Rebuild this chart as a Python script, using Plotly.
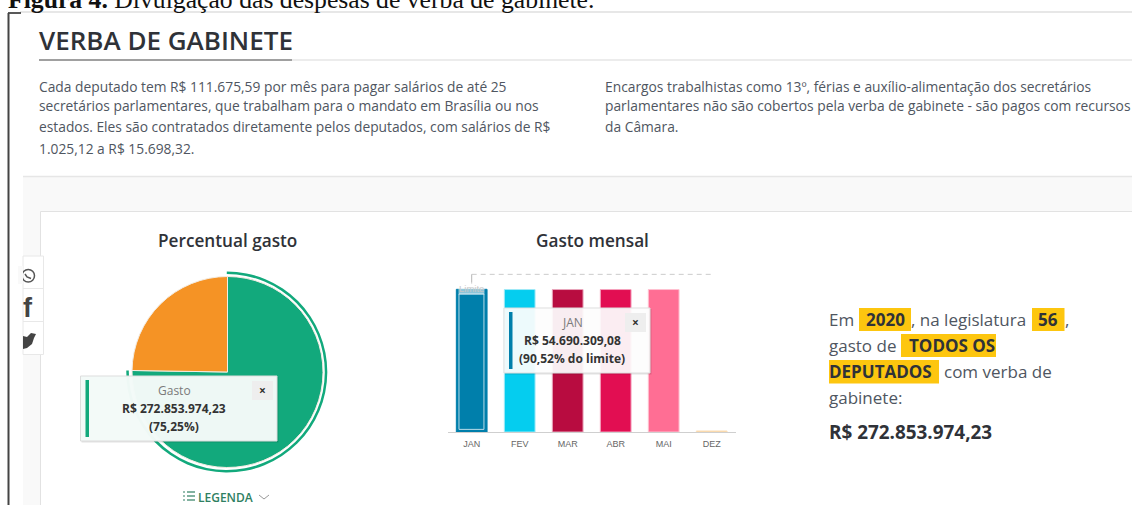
import plotly.graph_objects as go

# ---- data ----
pie_labels = ["Gasto", "Restante"]
pie_values = [75.25, 24.75]
months = ["JAN", "FEV", "MAR", "ABR", "MAI", "DEZ"]
month_values = [54.69, 54.6, 54.6, 54.6, 54.6, 0.4]
limit_value = 60.42
limit_tick_bottom = 56.7

W, H = 1132, 505
OS = "Open Sans"
TXT = "#4f5661"
DARK = "#2f3238"
GREEN = "#12a97c"
ORANGE = "#f59325"
BLUE = "#007fab"
bar_colors = [BLUE, "#05cdef", "#b80c40", "#e20e52", "#ff6e94", "#f9c98a"]
bar_edges = ["#007fab", "#9fe9f7", "#e9a6bb", "#f5a3bd", "#ffc0d0", "#fbe0bc"]

def px(x):
    return x / W

def py(y):
    return 1 - y / H

shapes, annos = [], []

def rect(x0, y0, x1, y1, fill="rgba(0,0,0,0)", line=None, lw=0, layer="below", opacity=1):
    shapes.append(dict(type="rect", xref="paper", yref="paper", x0=px(x0), x1=px(x1),
                       y0=py(y1), y1=py(y0), fillcolor=fill, layer=layer, opacity=opacity,
                       line=dict(color=line or "rgba(0,0,0,0)", width=lw)))

def line(x0, y0, x1, y1, color, w=1, layer="below", dash="solid"):
    shapes.append(dict(type="line", xref="paper", yref="paper", x0=px(x0), x1=px(x1),
                       y0=py(y0), y1=py(y1), layer=layer, line=dict(color=color, width=w, dash=dash)))

def text(x, y, s, size=12, color=TXT, anchor="left", family=OS, weight=None):
    f = dict(family=family, size=size, color=color)
    if weight:
        f["weight"] = weight
    annos.append(dict(xref="paper", yref="paper", x=px(x), y=py(y), text=s, showarrow=False,
                      xanchor=anchor, yanchor="middle", align=anchor, font=f,
                      borderpad=0, borderwidth=0))

# ---- page frame ----
text(8, -1, "<b>Figura 4.</b> Divulgação das despesas de verba de gabinete.", 25.7, "#111", family="Liberation Serif")
line(20, 12, W, 12, "#cfcfcf", 1)
line(8, 13, 21, 13, "#222", 1.5)
line(8.5, 13, 8.5, H, "#444", 2)
rect(23, 177, W, H, fill="#f9f9f9")
line(23, 176.5, W, 176.5, "#e6e6e6", 1.5)
rect(40.5, 211.5, W + 5, H + 5, fill="#ffffff", line="#e2e2e2", lw=1)

text(39, 40, "VERBA DE GABINETE", 26, "#2f3238", weight=600)
line(292, 60, W, 60, "#e6e6e6", 1.5)
line(39, 60, 292, 60, "#808080", 1.5)

left_par = ["Cada deputado tem R$ 111.675,59 por mês para pagar salários de até 25",
            "secretários parlamentares, que trabalham para o mandato em Brasília ou nos",
            "estados. Eles são contratados diretamente pelos deputados, com salários de R$",
            "1.025,12 a R$ 15.698,32."]
right_par = ["Encargos trabalhistas como 13º, férias e auxílio-alimentação dos secretários",
             "parlamentares não são cobertos pela verba de gabinete - são pagos com recursos",
             "da Câmara."]
for s, y in zip(left_par, [86, 106, 126.4, 148]):
    text(39, y, s, 13.8)
for s, y in zip(right_par, [86, 106, 126.4]):
    text(605, y, s, 13.8)

text(227, 240, "Percentual gasto", 17.2, DARK, "center", weight=600)
text(592, 240, "Gasto mensal", 17.2, DARK, "center", weight=600)

# ---- social strip ----
rect(23, 256, 43.5, 354.5, fill="#ffffff", line="#e8e8e8", lw=1)
line(23, 288.5, 43.5, 288.5, "#e8e8e8")
line(23, 321.5, 43.5, 321.5, "#e8e8e8")
shapes.append(dict(type="circle", xref="paper", yref="paper", layer="below",
                   x0=px(22), x1=px(34.5), y0=py(282), y1=py(269.5),
                   line=dict(color="#555", width=1.5)))
shapes.append(dict(type="path", xref="paper", yref="paper", layer="below",
                   line=dict(color="#555", width=1.5),
                   path=f"M {px(25)} {py(274)} L {px(27)} {py(277)} L {px(31)} {py(278.5)}"))
rect(18, 266, 23, 284, fill="#f9f9f9")
text(23, 308, "<b>f</b>", 27, "#444", family="Liberation Sans", anchor="left")
shapes.append(dict(type="path", xref="paper", yref="paper", layer="below", fillcolor="#444",
                   line=dict(color="#444", width=0),
                   path=(f"M {px(23)} {py(336)} L {px(27)} {py(337)} L {px(31)} {py(333)} L {px(36)} {py(334)} "
                         f"L {px(34)} {py(338)} L {px(32)} {py(344)} L {px(27)} {py(348)} L {px(23)} {py(349)} Z")))

# ---- tooltips ----
def tooltip(x0, y0, x1, y1, color, lines, cx, ys, fill):
    rect(x0 + 1, y0 + 1, x1 + 1.5, y1 + 1.5, fill="rgba(0,0,0,0.12)", layer="above")
    rect(x0, y0, x1, y1, fill=fill, line="#dddddd", lw=1, layer="above")
    rect(x0 + 5, y0 + 4, x0 + 8.5, y1 - 4, fill=color, layer="above")
    rect(x1 - 25, y0 + 5, x1 - 4, y0 + 24, fill="#eeeeee", layer="above")
    text(x1 - 14.5, y0 + 14, "<b>×</b>", 12, "#333", "center")
    text(cx, ys[0], lines[0], 12, "#7a7a7a", "center")
    text(cx, ys[1], "<b>" + lines[1] + "</b>", 12, "#333", "center")
    text(cx, ys[2], "<b>" + lines[2] + "</b>", 12, "#333", "center")

tooltip(80.5, 376, 277, 441, GREEN, ["Gasto", "R$ 272.853.974,23", "(75,25%)"], 174, [390.5, 408.5, 426.5],
        "rgba(243,250,248,0.98)")
tooltip(504, 308, 650, 373, BLUE, ["JAN", "R$ 54.690.309,08", "(90,52% do limite)"], 572, [322, 340, 358],
        "rgba(255,255,255,0.93)")

# ---- legend label ----
for yy in (491, 495, 499):
    line(183, yy + 1, 185, yy + 1, "#2f7f62", 1.2)
    line(187, yy + 1, 195, yy + 1, "#2f7f62", 1.2)
text(198, 497, "LEGENDA", 12, "#2f7f62", weight=600)
line(259, 495, 264, 499, "#999", 1)
line(264, 499, 269, 495, "#999", 1)

# ---- highlighted sentence ----
HL = "#fdc60f"
for b in [(859, 308, 911, 331), (1032, 308, 1064.5, 331), (901, 334, 996, 357), (829, 360, 939, 383.5)]:
    rect(*b, fill=HL)
S = 17
text(829, 319.5, "Em", S)
text(885, 319.5, "<b>2020</b>", S, DARK, "center")
text(911, 319.5, ", na legislatura", S)
text(1048, 319.5, "<b>56</b>", S, DARK, "center")
text(1065, 319.5, ",", S)
text(829, 345.5, "gasto de", S)
text(952, 345.5, "<b>TODOS OS</b>", S, DARK, "center")
text(829, 371.5, "<b>DEPUTADOS</b>", S, DARK)
text(944, 371.5, "com verba de", S)
text(829, 397.5, "gabinete:", S)
text(829, 432, "<b>R$ 272.853.974,23</b>", 18.9, DARK)

# ---- traces ----
fig = go.Figure()
r, cx, cy = 95.5, 227.5, 372
fig.add_trace(go.Pie(labels=pie_labels, values=pie_values, sort=False, direction="clockwise",
                     rotation=0, textinfo="none", hoverinfo="skip", showlegend=False,
                     marker=dict(colors=[GREEN, ORANGE], line=dict(color="#f3ece2", width=1)),
                     domain=dict(x=[px(cx - r), px(cx + r)], y=[py(cy + r), py(cy - r)])))
r2, cx2 = 100.5, 226.8
fig.add_trace(go.Pie(labels=pie_labels, values=pie_values, sort=False, direction="clockwise",
                     rotation=0, hole=0.975, textinfo="none", hoverinfo="skip", showlegend=False,
                     marker=dict(colors=[GREEN, "rgba(0,0,0,0)"], line=dict(width=0)),
                     domain=dict(x=[px(cx2 - r2), px(cx2 + r2)], y=[py(cy + r2), py(cy - r2)])))

fig.add_trace(go.Bar(x=months, y=month_values, width=0.64, showlegend=False, hoverinfo="skip",
                     marker=dict(color=bar_colors, line=dict(color=bar_edges, width=1))))
fig.add_trace(go.Scatter(x=[months[0], months[-1]], y=[limit_value, limit_value],
                         mode="lines", hoverinfo="skip", showlegend=False,
                         line=dict(color="#cccccc", width=1, dash="5px,4px")))
fig.add_trace(go.Scatter(x=[months[0], months[0]], y=[limit_tick_bottom, limit_value],
                         mode="lines", hoverinfo="skip", showlegend=False,
                         line=dict(color="#b5b5b5", width=1)))

# highlight frame inside the selected bar
shapes.append(dict(type="rect", xref="x", yref="y", x0=-0.265, x1=0.255, y0=1.0,
                   y1=month_values[0] - 1.8, layer="above", fillcolor="rgba(0,0,0,0)",
                   line=dict(color="#b8dbe8", width=1)))
annos.append(dict(xref="x", yref="y", x=months[0], y=month_values[0] + 0.3, text="Limite", showarrow=False,
                  yanchor="middle", font=dict(family="Liberation Sans", size=9.5, color="#c8c8c8"),
                  bgcolor="rgba(255,255,255,0.55)", borderpad=0))

fig.update_layout(
    width=W, height=H, autosize=False, margin=dict(l=0, r=0, t=0, b=0),
    paper_bgcolor="#ffffff", plot_bgcolor="rgba(0,0,0,0)", shapes=shapes, annotations=annos,
    xaxis=dict(domain=[px(447.7), px(735.7)], type="category", categoryorder="array",
               categoryarray=months, range=[-0.5, 5.5], showgrid=False, zeroline=False,
               showline=True, linecolor="#cfcfcf", linewidth=1, ticks="outside", ticklen=3,
               tickcolor="rgba(0,0,0,0)", fixedrange=True,
               tickfont=dict(family="Liberation Sans", size=9, color="#666666")),
    yaxis=dict(domain=[py(432), py(262.4)], range=[0, 65], visible=False, fixedrange=True),
)

fig.write_html("out.html", config=dict(displayModeBar=False),
               post_script="document.body.style.margin='0';document.body.style.overflow='hidden';")
